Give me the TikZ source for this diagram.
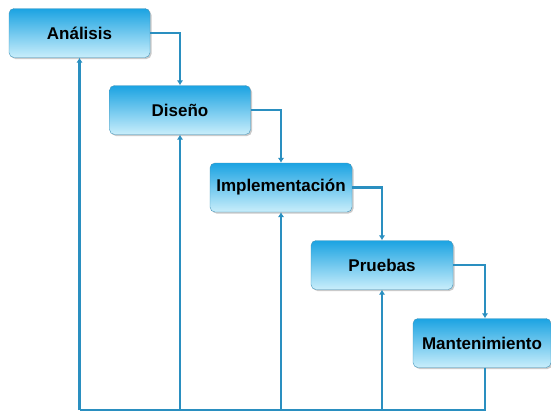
\documentclass[tikz,border=0pt]{standalone}
\usepackage{fontspec}
\setmainfont{Liberation Sans}
\usetikzlibrary{arrows.meta,shadows}
\definecolor{linec}{HTML}{2A8FC0}
\definecolor{boxtop}{HTML}{1BA3E2}
\definecolor{boxbot}{HTML}{C9EEFB}
\tikzset{
  phase/.style={rounded corners=5pt, minimum width=141pt, minimum height=49pt,
    top color=boxtop, bottom color=boxbot, draw=boxtop!60!gray, line width=0.4pt,
    drop shadow={shadow xshift=1.5pt, shadow yshift=-1.5pt, fill=gray!70, opacity=0.6},
    font=\fontsize{17}{20}\selectfont\bfseries, text=black, inner sep=0pt},
  conn/.style={draw=linec, line width=2.8pt},
  arr/.style={conn, -{Latex[length=5pt,width=6.5pt]}}
}
\begin{document}
\begin{tikzpicture}[x=1pt,y=-1pt]
\useasboundingbox (0,0) rectangle (551,416);
\node[phase] (ana) at (79.5,33) {Análisis};
\node[phase] (dis) at (180,110) {Diseño};
\node[phase, minimum width=142pt] (imp) at (281,187.5) {Implementación};
\node[phase, minimum width=142pt] (pru) at (382,265) {Pruebas};
\node[phase, minimum width=138pt] (man) at (482,343) {Mantenimiento};
\coordinate (br) at (485,410);
\coordinate (bl) at (79.5,410);
\coordinate (b2) at (180,410);
\coordinate (b3) at (281,410);
\coordinate (b4) at (382,410);
\draw[arr] (ana.east) -| (dis.north);
\draw[arr] (dis.east) -| (imp.north);
\draw[arr] (imp.east) -| (pru.north);
\draw[arr] (pru.east) -| ([xshift=3pt]man.north);
\draw[conn, line join=miter] ([xshift=3pt]man.south) -- (br) -- (bl);
\draw[arr] (bl) -- (ana.south);
\draw[arr] (b2) -- (dis.south);
\draw[arr] (b3) -- (imp.south);
\draw[arr] (b4) -- (pru.south);
\end{tikzpicture}
\end{document}
